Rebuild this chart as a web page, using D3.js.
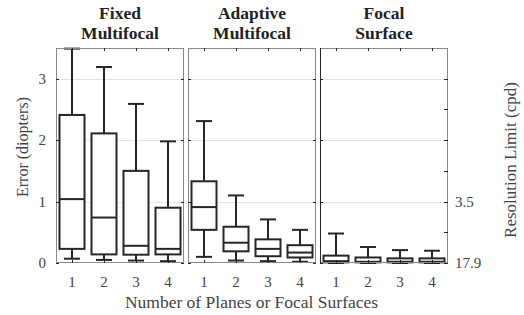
<!DOCTYPE html>
<html>
<head>
<meta charset="utf-8">
<script src="https://cdn.jsdelivr.net/npm/d3@7"></script>
<style>
  body { margin: 0; background: #fff; }
  text { font-family: "Liberation Serif", "Times New Roman", serif; }
</style>
</head>
<body>
<script>
// data: one group of boxes per display type
var categories = [1, 2, 3, 4];
var panelTitles = [["Fixed", "Multifocal"], ["Adaptive", "Multifocal"], ["Focal", "Surface"]];

var fixedLow  = [0.07, 0.05, 0.04, 0.03],
    fixedQ1   = [0.23, 0.14, 0.135, 0.14],
    fixedMed  = [1.04, 0.74, 0.28, 0.23],
    fixedQ3   = [2.41, 2.11, 1.50, 0.90],
    fixedHigh = [3.49, 3.19, 2.59, 1.98];

var adaptiveLow  = [0.10, 0.04, 0.03, 0.02],
    adaptiveQ1   = [0.54, 0.19, 0.11, 0.09],
    adaptiveMed  = [0.91, 0.33, 0.23, 0.17],
    adaptiveQ3   = [1.33, 0.59, 0.385, 0.29],
    adaptiveHigh = [2.31, 1.10, 0.71, 0.54];

var focalLow  = [0, 0, 0, 0],
    focalQ1   = [0.01, 0.01, 0.01, 0.01],
    focalMed  = [0.03, 0.02, 0.02, 0.02],
    focalQ3   = [0.12, 0.09, 0.075, 0.075],
    focalHigh = [0.48, 0.26, 0.21, 0.20];

var leftTicks = [0, 1, 2, 3];
var rightTickVals = [0, 0.5, 1, 1.5, 2, 2.5, 3];
var rightTickLabels = {0: "17.9", 1: "3.5"};

(function(){

// build table per panel
function makeBoxes(low, q1, med, q3, high){
    return categories.map(function(c, i){
        return {cat: c, low: low[i], q1: q1[i], med: med[i], q3: q3[i], high: high[i]};
    });
}
var panels = [
    makeBoxes(fixedLow, fixedQ1, fixedMed, fixedQ3, fixedHigh),
    makeBoxes(adaptiveLow, adaptiveQ1, adaptiveMed, adaptiveQ3, adaptiveHigh),
    makeBoxes(focalLow, focalQ1, focalMed, focalQ3, focalHigh)
];

var width = 524, height = 315;
var panelLeft = 56, panelWidth = 128, panelStep = 132;
var plotTop = 48, plotBottom = 263;
var boxW = 25, capW = 16;
var ink = "#262626", axisGrey = "#8a8a8a", labelGrey = "#444";

var svg = d3.select("body").append("svg")
    .attr("width", width)
    .attr("height", height);

var y = d3.scaleLinear().domain([0, 3.5]).range([plotBottom, plotTop]);

panels.forEach(function(boxes, p){
    var x0 = panelLeft + p * panelStep;
    var x = d3.scalePoint()
        .domain(categories)
        .range([x0, x0 + panelWidth])
        .padding(0.5);

    var g = svg.append("g").attr("class", "panel");

    // gridlines
    g.selectAll(".grid")
        .data([1, 2, 3])
        .enter().append("line")
        .attr("x1", x0).attr("x2", x0 + panelWidth)
        .attr("y1", function(d){ return Math.round(y(d)) + 0.5; })
        .attr("y2", function(d){ return Math.round(y(d)) + 0.5; })
        .attr("stroke", "#e3e3e3")
        .attr("stroke-width", 1);

    // boxes
    var b = g.selectAll(".box")
        .data(boxes)
        .enter().append("g")
        .attr("class", "box");

    b.append("line") // whisker
        .attr("x1", function(d){ return x(d.cat); })
        .attr("x2", function(d){ return x(d.cat); })
        .attr("y1", function(d){ return y(d.low); })
        .attr("y2", function(d){ return y(d.high); })
        .attr("stroke", ink).attr("stroke-width", 2);

    b.append("line") // top cap
        .attr("x1", function(d){ return x(d.cat) - capW / 2; })
        .attr("x2", function(d){ return x(d.cat) + capW / 2; })
        .attr("y1", function(d){ return y(d.high); })
        .attr("y2", function(d){ return y(d.high); })
        .attr("stroke", ink).attr("stroke-width", 2);

    b.append("line") // bottom cap
        .attr("x1", function(d){ return x(d.cat) - capW / 2; })
        .attr("x2", function(d){ return x(d.cat) + capW / 2; })
        .attr("y1", function(d){ return y(d.low); })
        .attr("y2", function(d){ return y(d.low); })
        .attr("stroke", ink).attr("stroke-width", 2);

    b.append("rect")
        .attr("x", function(d){ return x(d.cat) - boxW / 2; })
        .attr("y", function(d){ return y(d.q3); })
        .attr("width", boxW)
        .attr("height", function(d){ return y(d.q1) - y(d.q3); })
        .attr("fill", "#fff")
        .attr("stroke", ink).attr("stroke-width", 2);

    b.append("line") // median
        .attr("x1", function(d){ return x(d.cat) - boxW / 2; })
        .attr("x2", function(d){ return x(d.cat) + boxW / 2; })
        .attr("y1", function(d){ return y(d.med); })
        .attr("y2", function(d){ return y(d.med); })
        .attr("stroke", ink).attr("stroke-width", 2);

    // frame
    g.append("rect")
        .attr("x", x0 + 0.5).attr("y", plotTop + 0.5)
        .attr("width", panelWidth - 1).attr("height", plotBottom - plotTop - 1)
        .attr("fill", "none")
        .attr("stroke", axisGrey)
        .attr("stroke-width", 1);
    if (p == 2){
        g.append("line")
            .attr("x1", x0 + 0.5).attr("x2", x0 + 0.5)
            .attr("y1", plotTop).attr("y2", plotBottom)
            .attr("stroke", ink).attr("stroke-width", 1);
    }

    // category ticks top and bottom (inward)
    g.selectAll(".xtick")
        .data(categories)
        .enter().append("path")
        .attr("d", function(d){
            var xx = Math.round(x(d)) + 0.5;
            return "M" + xx + "," + plotTop + "v3M" + xx + "," + plotBottom + "v-3";
        })
        .attr("stroke", ink).attr("stroke-width", 1);

    // value ticks left and right (inward)
    g.selectAll(".ytick")
        .data(leftTicks)
        .enter().append("path")
        .attr("d", function(d){
            var yy = Math.round(y(d)) + 0.5;
            return "M" + x0 + "," + yy + "h3M" + (x0 + panelWidth) + "," + yy + "h-3";
        })
        .attr("stroke", ink).attr("stroke-width", 1);

    // category labels
    g.selectAll(".xlabel")
        .data(categories)
        .enter().append("text")
        .attr("x", function(d){ return x(d); })
        .attr("y", 287)
        .attr("text-anchor", "middle")
        .attr("font-size", 15)
        .attr("fill", labelGrey)
        .text(function(d){ return d; });

    // title
    var t = svg.append("text")
        .attr("x", x0 + panelWidth / 2)
        .attr("text-anchor", "middle")
        .attr("font-size", 17.5)
        .attr("font-weight", "bold")
        .attr("fill", "#222");
    panelTitles[p].forEach(function(line, i){
        t.append("tspan")
            .attr("x", x0 + panelWidth / 2)
            .attr("y", 19 + i * 20)
            .text(line);
    });
});

// left axis labels
svg.selectAll(".ylabel")
    .data(leftTicks)
    .enter().append("text")
    .attr("x", 46)
    .attr("y", function(d){ return y(d) + 5; })
    .attr("text-anchor", "end")
    .attr("font-size", 15)
    .attr("fill", labelGrey)
    .text(function(d){ return d; });

// right axis: resolution limit
var rightX = panelLeft + 2 * panelStep + panelWidth;
svg.selectAll(".rtick")
    .data(rightTickVals)
    .enter().append("line")
    .attr("x1", rightX - 4).attr("x2", rightX)
    .attr("y1", function(d){ return Math.round(y(d)) + 0.5; })
    .attr("y2", function(d){ return Math.round(y(d)) + 0.5; })
    .attr("stroke", ink).attr("stroke-width", 1);

svg.selectAll(".rlabel")
    .data(rightTickVals.filter(function(d){ return rightTickLabels[d] !== undefined; }))
    .enter().append("text")
    .attr("x", 455)
    .attr("y", function(d){ return y(d) + 5; })
    .attr("font-size", 15)
    .attr("fill", labelGrey)
    .text(function(d){ return rightTickLabels[d]; });

// axis titles
svg.append("text")
    .attr("x", 251.5).attr("y", 308)
    .attr("text-anchor", "middle")
    .attr("font-size", 17.5)
    .attr("fill", labelGrey)
    .text("Number of Planes or Focal Surfaces");

svg.append("text")
    .attr("transform", "translate(28,147) rotate(-90)")
    .attr("text-anchor", "middle")
    .attr("font-size", 16)
    .attr("fill", labelGrey)
    .text("Error (diopters)");

svg.append("text")
    .attr("transform", "translate(516,160) rotate(-90)")
    .attr("text-anchor", "middle")
    .attr("font-size", 17)
    .attr("fill", labelGrey)
    .text("Resolution Limit (cpd)");

})();
</script>
</body>
</html>
